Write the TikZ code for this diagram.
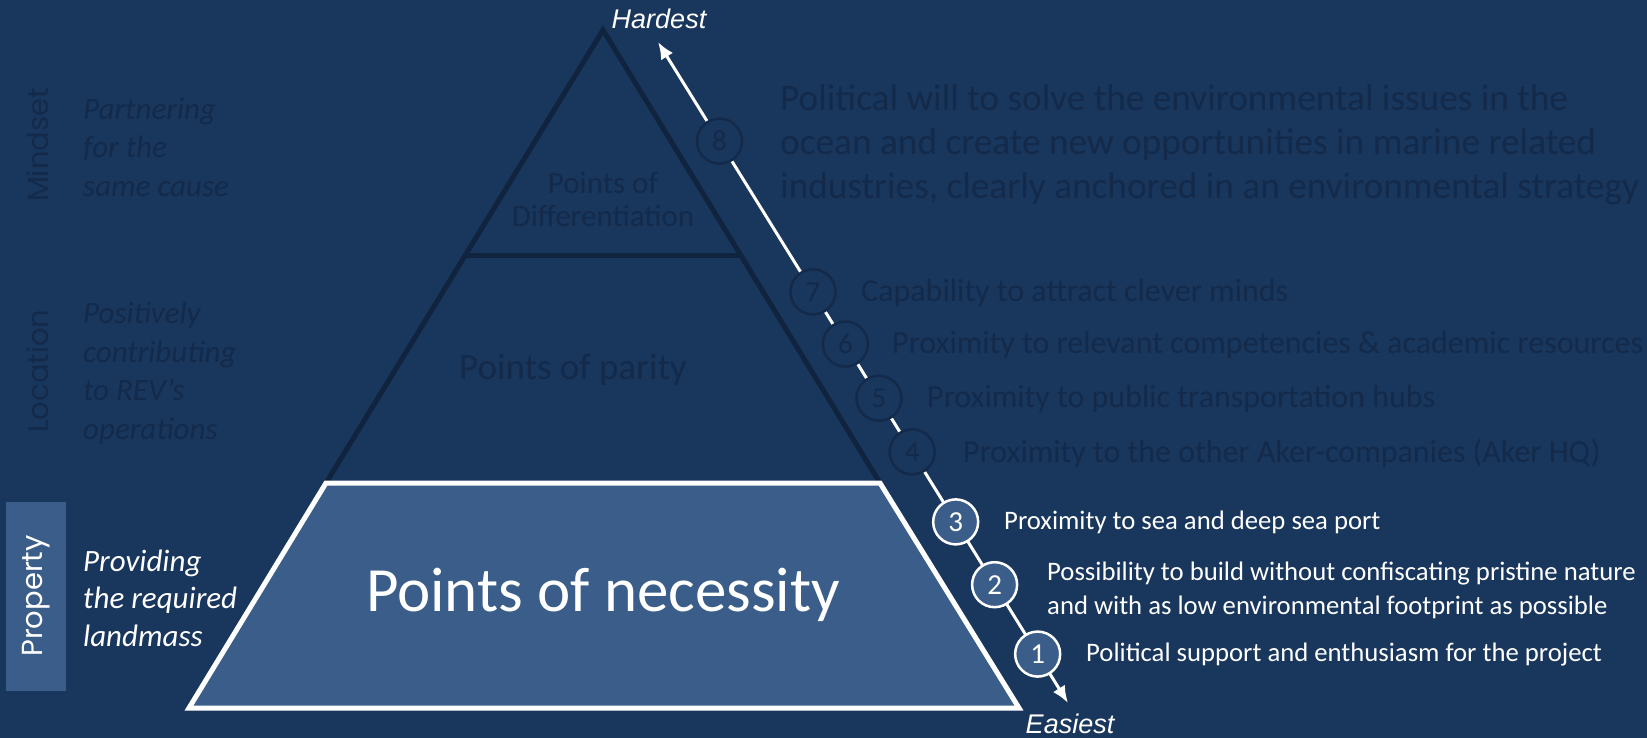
\documentclass[tikz,border=0pt]{standalone}
\usepackage{fontspec}
\setmainfont{Carlito}
\newfontfamily\arialfont{Liberation Sans}
\newfontfamily\gothicfont{Poppins}
\usetikzlibrary{calc,positioning,arrows.meta}
\definecolor{bgblue}{RGB}{25,54,93}
\definecolor{dimblue}{RGB}{19,42,74}
\definecolor{triblue}{RGB}{16,36,64}
\definecolor{boxblue}{RGB}{58,94,137}
\tikzset{
    stage/.style={circle, draw=dimblue, line width=2.5pt, fill=bgblue, text=dimblue,
        minimum size=45pt, inner sep=0pt, font=\fontsize{29}{29}\selectfont},
    stagelit/.style={stage, draw=white, fill=boxblue, text=white},
    point/.style={anchor=west, inner sep=0pt, text=dimblue, align=left, font=\fontsize{32}{37}\selectfont},
    pointlit/.style={anchor=west, inner sep=0pt, text=white, align=left, font=\fontsize{26.7}{34}\selectfont},
    side/.style={anchor=west, inner sep=0pt, align=left, text=dimblue, font=\itshape\fontsize{31}{38.5}\selectfont},
    level/.style={rotate=90, inner sep=0pt, text=dimblue, font=\gothicfont\fontsize{29}{29}\selectfont},
    ends/.style={anchor=base, inner sep=0pt, text=white, font=\arialfont\itshape\fontsize{27}{30}\selectfont}
}
\begin{document}
\begin{tikzpicture}[x=1pt, y=-1pt]
                \fill[bgblue] (0,0) rectangle (1647,738);
                \useasboundingbox (0,0) rectangle (1647,738);
                \draw[triblue, line width=5pt] (326,483) -- (603,30) -- (880,483);
                \draw[triblue, line width=5pt] (466,256) -- (741,256);
                \draw[white, line width=5pt, fill=boxblue] (326,483) -- (880,483) -- (1019,708) -- (189,708) -- cycle;
                \node[text=dimblue, align=center, font=\fontsize{31}{33}\selectfont] (diff) at (603,199) {Points of\\Differentiation};
                \node[text=dimblue, font=\fontsize{37}{37}\selectfont] (parity) at (573,370) {Points of parity};
                \node[text=white, font=\fontsize{63}{63}\selectfont] (necessity) at (603,595) {Points of necessity};
                \node[level, text=white, fill=boxblue, minimum width=189pt, minimum height=60pt] (property) at (36,596) {Property};
                \node[level] (mindset) at (38,145) {Mindset};
                \node[level] (location) at (38,371) {Location};
                \node[side] (mindtxt) at (83,147) {Partnering\\for the\\same cause};
                \node[side] (loctxt) at (83,373) {Positively\\contributing\\to REV’s\\operations};
                \node[side, text=white, font=\itshape\fontsize{31}{37.5}\selectfont] (proptxt) at (83,598) {Providing\\the required\\landmass};
                \coordinate (hard) at (658,42);
                \coordinate (easy) at (1068,703);
                \draw[{Latex[length=17pt,width=14pt]}-{Latex[length=17pt,width=14pt]}, white, line width=3pt] (easy) -- (hard);
                \node[stage] (s8) at ($(hard)!0.150!(easy)$) {8};
                \node[stage] (s7) at ($(hard)!0.378!(easy)$) {7};
                \node[stage] (s6) at ($(hard)!0.457!(easy)$) {6};
                \node[stage] (s5) at ($(hard)!0.539!(easy)$) {5};
                \node[stage] (s4) at ($(hard)!0.620!(easy)$) {4};
                \node[stagelit] (s3) at ($(hard)!0.726!(easy)$) {3};
                \node[stagelit] (s2) at ($(hard)!0.821!(easy)$) {2};
                \node[stagelit] (s1) at ($(hard)!0.926!(easy)$) {1};
                \node[ends] (hardest) at (659,29) {Hardest};
                \node[ends] (easiest) at (1070,733) {Easiest};
                \node[point, font=\fontsize{37.3}{44}\selectfont] (t8) at (780,145) {Political will to solve the environmental issues in the\\ocean and create new opportunities in marine related\\industries, clearly anchored in an environmental strategy};
                \node[point] (t7) at (861,293) {Capability to attract clever minds};
                \node[point] (t6) at (892,345) {Proximity to relevant competencies \& academic resources};
                \node[point] (t5) at (927,399) {Proximity to public transportation hubs};
                \node[point] (t4) at (963,453) {Proximity to the other Aker-companies (Aker HQ)};
                \node[pointlit] (t3) at (1004,522) {Proximity to sea and deep sea port};
                \node[pointlit] (t2) at (1047,590) {Possibility to build without confiscating pristine nature\\and with as low environmental footprint as possible};
                \node[pointlit] (t1) at (1086,655) {Political support and enthusiasm for the project};
\end{tikzpicture}
\end{document}
